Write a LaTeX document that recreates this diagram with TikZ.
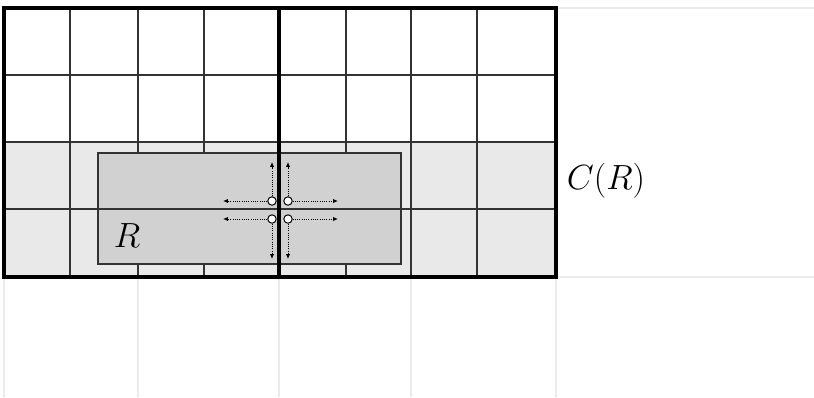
\documentclass[tikz,border=0pt]{standalone}
\usetikzlibrary{arrows.meta}
\definecolor{cellfill}{HTML}{E8E9E8}
\definecolor{regfill}{HTML}{D0D1D0}
\definecolor{faintline}{HTML}{EBEBEB}
\begin{document}
\begin{tikzpicture}[x=0.025cm,y=-0.025cm,
    probe/.style={circle,draw=black,fill=white,line width=0.7pt,inner sep=0pt,minimum size=0.21cm},
    ray/.style={densely dotted,line width=0.6pt,-{Latex[length=3.5pt,width=3pt]}},
    gridline/.style={black!80,line width=0.9pt}]
  \useasboundingbox (0,0) rectangle (814,397);
  % faint outer grid
  \foreach \x in {4,138,279,411,556}
    \draw[faintline,line width=1.3pt] (\x,277) -- (\x,397);
  \foreach \y in {8,277}
    \draw[faintline,line width=1.3pt] (556,\y) -- (814,\y);
  % cells of C(R)
  \fill[cellfill] (4,142) rectangle (556,277);
  \foreach \x in {70,138,204,346,411,477}
    \draw[gridline] (\x,8) -- (\x,277);
  \foreach \y in {75,142}
    \draw[gridline] (4,\y) -- (556,\y);
  % region R
  \draw[fill=regfill,draw=black!80,line width=1.1pt] (98,153) rectangle (401,264);
  \draw[gridline] (4,209) -- (556,209);
  \draw[line width=2.8pt] (4,8) rectangle (556,277);
  \draw[line width=2.2pt] (279,8) -- (279,277);
  % probes
  \node[probe] (ul) at (272,201) {};
  \node[probe] (ur) at (288,201) {};
  \node[probe] (ll) at (272,219) {};
  \node[probe] (lr) at (288,219) {};
  \coordinate (ulU) at (272,162);
  \coordinate (ulL) at (223,201);
  \coordinate (urU) at (288,162);
  \coordinate (urR) at (338,201);
  \coordinate (llL) at (223,219);
  \coordinate (llD) at (272,259);
  \coordinate (lrR) at (338,219);
  \coordinate (lrD) at (288,259);
  \draw[ray] (ul) -- (ulU);
  \draw[ray] (ul) -- (ulL);
  \draw[ray] (ur) -- (urU);
  \draw[ray] (ur) -- (urR);
  \draw[ray] (ll) -- (llL);
  \draw[ray] (ll) -- (llD);
  \draw[ray] (lr) -- (lrR);
  \draw[ray] (lr) -- (lrD);
  % labels
  \node[font=\fontsize{23}{27}\selectfont] (rlabel) at (127,236) {$R$};
  \node[font=\fontsize{27}{32}\selectfont] (clabel) at (606,181) {$C(R)$};
\end{tikzpicture}
\end{document}
